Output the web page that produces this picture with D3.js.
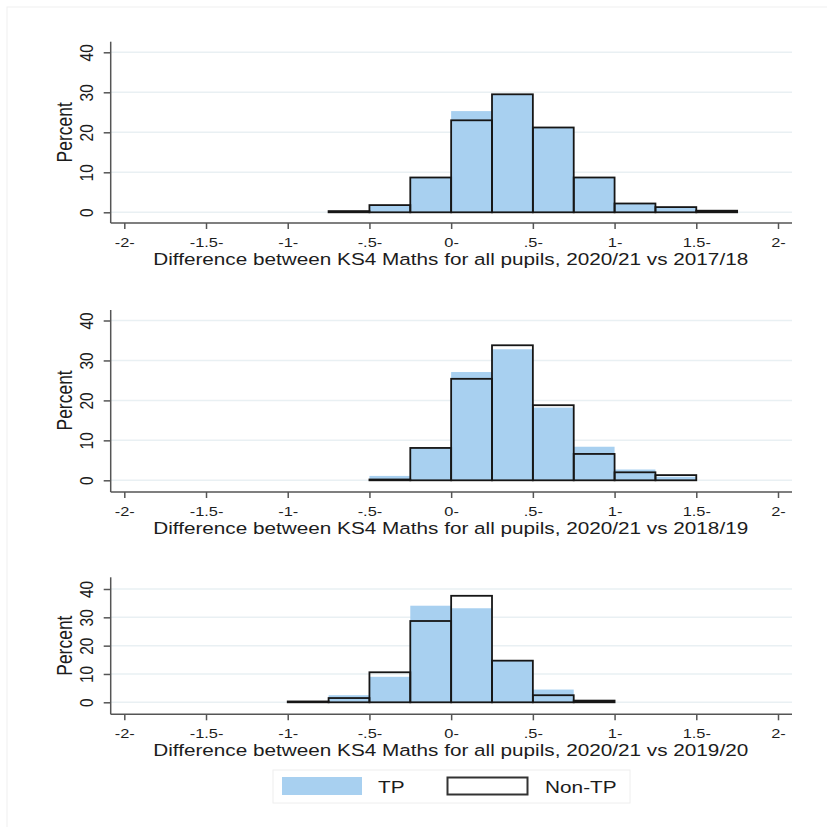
<!DOCTYPE html>
<html><head><meta charset="utf-8">
<script src="https://cdn.jsdelivr.net/npm/d3@7"></script>
<style>
body{margin:0;background:#fff}
svg{display:block}
text{font-family:"Liberation Sans",Arial,sans-serif;fill:#1c1c1c}
</style>
</head><body>
<svg id="c" width="827" height="827"></svg>
<script>
// ---- data ----
const xTickValues = [-2, -1.5, -1, -0.5, 0, 0.5, 1, 1.5, 2];
const xTickLabels = ["-2-", "-1.5-", "-1-", "-.5-", "0-", ".5-", "1-", "1.5-", "2-"];
const yTickValues = [0, 10, 20, 30, 40];
const yAxisTitle = "Percent";
const binWidth = 0.25;
const seriesNames = ["TP", "Non-TP"];

const titles = [
  "Difference between KS4 Maths for all pupils, 2020/21 vs 2017/18",
  "Difference between KS4 Maths for all pupils, 2020/21 vs 2018/19",
  "Difference between KS4 Maths for all pupils, 2020/21 vs 2019/20"
];

const binStarts1 = [-0.75, -0.5, -0.25, 0, 0.25, 0.5, 0.75, 1, 1.25, 1.5];
const tp1        = [0.2, 1.8, 8.7, 25.3, 29.5, 21.2, 8.7, 2.3, 1.3, 0.4];
const nonTp1     = [0.3, 1.8, 8.7, 23.0, 29.5, 21.2, 8.7, 2.2, 1.3, 0.4];

const binStarts2 = [-0.5, -0.25, 0, 0.25, 0.5, 0.75, 1, 1.25];
const tp2        = [1.1, 8.1, 27.1, 32.8, 18.2, 8.4, 2.7, 0.9];
const nonTp2     = [0.2, 8.1, 25.4, 33.8, 18.8, 6.6, 2.0, 1.3];

const binStarts3 = [-1, -0.75, -0.5, -0.25, 0, 0.25, 0.5, 0.75];
const tp3        = [0.1, 2.5, 9.0, 34.1, 33.2, 14.7, 4.5, 0.4];
const nonTp3     = [0.3, 1.5, 10.6, 28.7, 37.6, 14.7, 2.5, 0.6];

// ---- layout ----
const svg = d3.select("#c");
const TP_FILL = "#a8d0f0";
const AXIS_COL = "#555";
const GRID_COL = "#e9f0f3";
const axisX = 110.7, axisRight = 792;

const x = d3.scaleLinear().domain([-2, 2]).range([124.3, 778]);

// faint outer frame
svg.append("rect").attr("x", 7).attr("y", 7).attr("width", 830).attr("height", 830)
  .attr("fill", "none").attr("stroke", "#f0f0f0").attr("stroke-width", 1);

const panels = [
  {title: titles[0], bins: binStarts1, tp: tp1, non: nonTp1, zeroY: 212.3, fortyY: 52.3, axisY: 223, axisTop: 41.7},
  {title: titles[1], bins: binStarts2, tp: tp2, non: nonTp2, zeroY: 480.3, fortyY: 320.5, axisY: 492, axisTop: 310},
  {title: titles[2], bins: binStarts3, tp: tp3, non: nonTp3, zeroY: 702.3, fortyY: 589, axisY: 714.3, axisTop: 577.3}
];

panels.forEach(p => {
  const y = d3.scaleLinear().domain([0, 40]).range([p.zeroY, p.fortyY]);
  const g = svg.append("g");

  // gridlines
  g.selectAll("line.grid").data(yTickValues).join("line")
    .attr("x1", axisX).attr("x2", axisRight)
    .attr("y1", d => y(d)).attr("y2", d => y(d))
    .attr("stroke", GRID_COL).attr("stroke-width", 1.5);

  // TP bars (filled)
  g.selectAll("rect.tp").data(p.bins.map((b, i) => ({b, v: p.tp[i]}))).join("rect")
    .attr("x", d => x(d.b)).attr("width", d => x(d.b + binWidth) - x(d.b))
    .attr("y", d => y(d.v)).attr("height", d => y(0) - y(d.v))
    .attr("fill", TP_FILL);

  // Non-TP bars (outline)
  g.selectAll("rect.non").data(p.bins.map((b, i) => ({b, v: p.non[i]}))).join("rect")
    .attr("x", d => x(d.b)).attr("width", d => x(d.b + binWidth) - x(d.b))
    .attr("y", d => y(d.v)).attr("height", d => Math.max(0.01, y(0) - y(d.v)))
    .attr("fill", "none").attr("stroke", "#161616").attr("stroke-width", 1.8);

  // x axis
  const xa = g.append("g").attr("transform", `translate(0,${p.axisY})`)
    .call(d3.axisBottom(x).tickValues(xTickValues)
      .tickFormat((d, i) => xTickLabels[i]).tickSize(6).tickSizeOuter(0));
  xa.select(".domain").remove();
  xa.selectAll(".tick line").attr("stroke", AXIS_COL).attr("stroke-width", 1.5);
  xa.selectAll(".tick text").attr("y", 0).attr("dy", 0)
    .attr("transform", "translate(0,24) scale(1.3,1)")
    .attr("font-size", 12.6).attr("fill", "#1c1c1c").attr("font-family", '"Liberation Sans",Arial,sans-serif');
  g.append("line").attr("x1", axisX).attr("x2", axisRight)
    .attr("y1", p.axisY).attr("y2", p.axisY)
    .attr("stroke", AXIS_COL).attr("stroke-width", 1.5);

  // y axis
  const ya = g.append("g").attr("transform", `translate(${axisX},0)`)
    .call(d3.axisLeft(y).tickValues(yTickValues).tickSize(7).tickSizeOuter(0));
  ya.select(".domain").remove();
  ya.selectAll(".tick line").attr("stroke", AXIS_COL).attr("stroke-width", 1.5);
  ya.selectAll(".tick text").attr("x", 0).attr("dy", 0).attr("y", 0)
    .attr("text-anchor", "middle")
    .attr("transform", "translate(-17.5,0) scale(1.2,1) rotate(-90)")
    .attr("font-size", 15.5).attr("fill", "#1c1c1c").attr("font-family", '"Liberation Sans",Arial,sans-serif');
  g.append("line").attr("x1", axisX).attr("x2", axisX)
    .attr("y1", p.axisTop).attr("y2", p.axisY)
    .attr("stroke", AXIS_COL).attr("stroke-width", 1.5);

  // y title
  g.append("text").attr("text-anchor", "middle").attr("font-size", 17.5)
    .attr("transform", `translate(71.5,${(y(0) + y(40)) / 2}) scale(1.3,1) rotate(-90)`)
    .text(yAxisTitle);

  // x title
  g.append("text").attr("x", 450.7).attr("y", p.axisY + 42)
    .attr("text-anchor", "middle").attr("font-size", 16.3)
    .attr("textLength", 595).attr("lengthAdjust", "spacingAndGlyphs")
    .text(p.title);
});

// legend
const lg = svg.append("g");
lg.append("rect").attr("x", 273).attr("y", 770).attr("width", 357).attr("height", 33)
  .attr("fill", "#fff").attr("stroke", "#eeeeee").attr("stroke-width", 1);
lg.append("rect").attr("x", 282).attr("y", 777).attr("width", 80).attr("height", 18)
  .attr("fill", TP_FILL);
lg.append("rect").attr("x", 447.5).attr("y", 777.5).attr("width", 80).attr("height", 17)
  .attr("fill", "#fff").attr("stroke", "#333").attr("stroke-width", 2);
lg.append("text").attr("font-size", 16)
  .attr("transform", "translate(378,792.5) scale(1.3,1)").text(seriesNames[0]);
lg.append("text").attr("font-size", 16)
  .attr("transform", "translate(545,792.5) scale(1.3,1)").text(seriesNames[1]);
</script>
</body></html>
